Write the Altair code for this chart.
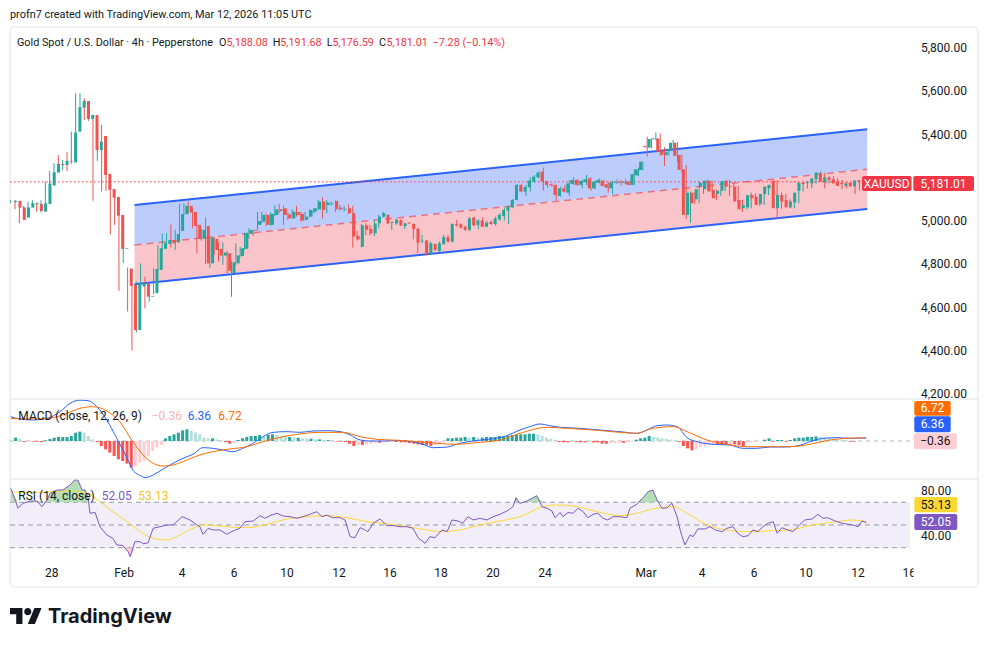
import altair as alt
import pandas as pd

# ---------------- data ----------------
opens = [5087,5093,5063,5016,5062,5077,5079,5043,5079,5164,
5224,5264,5259,5278,5271,5413,5524,5555,5472,5490,
5328,5393,5218,5148,5111,5028,4871,4780,4704,4496,
4697,4712,4650,4666,4774,4871,4894,4912,4901,4954,
5031,5070,5042,4982,4917,4977,4804,4917,4871,4840,
4851,4758,4804,4838,4871,4940,4959,4982,4997,5028,
4982,5028,5054,5059,5031,5012,5042,5033,5005,5020,
5043,5054,5090,5074,5079,5093,5062,5053,5059,5036,
4931,4881,4980,4963,4943,4989,5020,5028,4992,4989,
5002,4977,4992,4986,4965,4906,4909,4848,4894,4861,
4894,4925,4905,4986,4985,4974,4959,5016,4982,5002,
4974,4996,4986,5008,5023,5048,5063,5097,5167,5136,
5156,5182,5202,5228,5185,5170,5167,5116,5151,5131,
5171,5190,5167,5180,5197,5151,5177,5187,5170,5151,
5176,5182,5176,5182,5167,5211,5236,5347,5339,5378,
5382,5325,5305,5325,5362,5305,5239,5028,5131,5100,
5159,5147,5185,5143,5125,5140,5187,5162,5159,5097,
5059,5063,5120,5113,5079,5125,5151,5187,5059,5120,
5097,5063,5085,5140,5177,5177,5174,5193,5221,5179,
5202,5193,5182,5177,5162,5177,5160,5188.08]
highs = [5097,5097,5066,5070,5090,5096,5086,5096,5182,5231,
5267,5305,5282,5318,5413,5591,5591,5567,5498,5492,
5421,5444,5221,5190,5139,5030,4943,4785,4706,4720,
4804,4743,4709,4781,4889,4943,4943,4985,4959,5079,
5082,5090,5059,4982,4963,5016,4928,4928,4901,4901,
4861,4812,4897,4881,4946,4966,4959,5042,5042,5036,
5039,5074,5079,5070,5039,5054,5070,5042,5042,5054,
5060,5097,5110,5097,5090,5094,5074,5070,5077,5070,
4954,4986,4989,4982,5005,5028,5043,5030,4997,5012,
5008,4992,4993,4988,4966,4935,4912,4905,4895,4905,
4935,4935,4989,5005,4989,4977,5017,5020,5008,5017,
5000,5002,5020,5036,5063,5070,5102,5171,5170,5167,
5202,5213,5231,5247,5186,5174,5168,5159,5167,5190,
5202,5193,5190,5213,5202,5187,5197,5190,5182,5187,
5193,5190,5193,5187,5239,5247,5275,5390,5382,5410,
5405,5341,5333,5375,5365,5307,5259,5136,5133,5182,
5182,5193,5187,5145,5142,5187,5190,5174,5162,5098,
5082,5131,5128,5116,5131,5167,5174,5190,5131,5125,
5100,5100,5143,5182,5182,5190,5224,5228,5224,5208,
5208,5197,5190,5182,5177,5180,5190,5191.68]
lows = [5082,5054,4989,5009,5056,5071,5043,5040,5074,5156,
5219,5255,5234,5231,5265,5411,5501,5467,5463,5094,
5278,5136,5139,4938,4982,4677,4806,4581,4401,4484,
4689,4596,4627,4661,4769,4866,4881,4877,4866,4905,
5028,5036,4966,4851,4909,4801,4784,4843,4812,4797,
4758,4650,4797,4835,4866,4917,4931,4959,4989,4977,
4977,5023,5036,4982,5005,5012,5020,4997,5003,5018,
5036,5051,5012,5036,5070,5042,5048,5043,5033,4877,
4909,4878,4935,4935,4931,4966,5016,4986,4959,4982,
4977,4963,4986,4915,4851,4897,4841,4843,4863,4858,
4889,4900,4900,4974,4966,4954,4955,4977,4962,4971,
4971,4982,4977,5002,5002,4986,5059,5095,5133,5116,
5136,5177,5197,5140,5154,5159,5094,5113,5133,5116,
5167,5162,5151,5167,5140,5147,5174,5159,5131,5125,
5171,5164,5171,5164,5165,5208,5233,5298,5336,5372,
5301,5254,5303,5322,5274,5224,5009,4992,5079,5082,
5125,5143,5131,5097,5116,5138,5116,5116,5082,5043,
5054,5059,5100,5070,5074,5120,5140,5008,5056,5082,
5059,5059,5082,5136,5151,5151,5171,5182,5151,5174,
5174,5171,5147,5151,5159,5125,5140,5176.59]
closes = [5093,5062,5005,5063,5082,5082,5046,5082,5173,5225,
5264,5259,5278,5275,5410,5526,5555,5472,5490,5328,
5367,5213,5144,5108,5025,4871,4874,4700,4496,4707,
4712,4650,4653,4778,4874,4900,4912,4897,4940,5032,
5070,5039,4977,4917,4959,4804,4923,4866,4840,4854,
4770,4809,4841,4874,4943,4959,4955,5000,5028,4982,
5033,5054,5046,5028,5012,5043,5028,5002,5020,5051,
5059,5090,5051,5085,5082,5054,5054,5056,5036,4928,
4915,4980,4959,4943,4989,5020,5036,4989,4996,5005,
4980,4989,4989,4962,4900,4909,4851,4897,4866,4897,
4925,4905,4986,4980,4969,4959,5012,4980,5002,4974,
4992,4986,5012,5028,5051,5066,5097,5167,5136,5157,
5187,5205,5224,5182,5167,5165,5120,5151,5136,5174,
5190,5167,5185,5193,5151,5182,5190,5162,5154,5177,
5180,5177,5180,5167,5217,5239,5274,5341,5379,5382,
5321,5305,5318,5362,5301,5236,5028,5131,5082,5147,
5177,5187,5136,5105,5140,5185,5159,5159,5090,5054,
5074,5120,5105,5074,5125,5159,5167,5059,5120,5090,
5063,5090,5131,5177,5171,5182,5197,5224,5182,5202,
5190,5174,5162,5171,5174,5160,5188,5181.01]

hist = [7.1,4.3,-2.1,-1.4,-1.4,-1.4,-2.1,1.4,4.3,7.1,
8.5,8.5,8.5,10.6,17.7,19.9,17.7,10.6,3.5,-2.1,
-10.6,-17.7,-24.8,-31.9,-39,-42.6,-48.2,-56.7,-53.2,-46.1,
-42.6,-31.9,-21.3,-14.2,-8.5,5.7,10.6,14.2,17.7,22.7,
24.8,21.3,17.7,14.2,7.1,5.7,5.7,3.5,2.1,-2.1,
-5.7,-3.5,2.1,5.7,8.5,10.6,10.6,12.8,10.6,12.8,
14.2,12.8,10.6,8.5,8.5,7.1,7.1,5.7,5.0,5.0,
3.5,3.5,2.1,2.1,1.4,-1.4,-1.4,-2.1,-5.7,-10.6,
-8.5,-8.5,-7.1,-5.7,-3.5,-3.5,-2.8,-2.1,-1.4,-2.1,
-2.8,-2.8,-4.3,-5.7,-7.1,-8.5,-8.5,-10.6,-8.5,-5.7,
-2.8,5.7,5.7,7.1,7.1,8.5,7.1,8.5,7.1,7.1,
8.5,8.5,8.5,10.6,10.6,10.6,12.8,12.8,14.2,14.2,
15.6,15.6,14.2,10.6,7.1,5.0,2.8,-2.1,-2.8,-2.8,
-2.1,-2.1,-2.8,-2.8,-2.1,-2.8,-2.8,-5.7,-5.7,-5.0,
-4.3,-3.5,-3.5,-2.8,-2.1,2.8,5.7,7.1,10.6,8.5,
7.1,5.7,4.3,2.8,2.1,-2.1,-10.6,-15.6,-19.9,-17.7,
-12.8,-10.6,-8.5,-7.1,-7.1,-8.5,-8.5,-7.1,-7.1,-8.5,
-10.6,-3.5,-2.8,-2.1,-1.4,2.8,5.7,-1.4,2.1,2.1,
-1.4,2.1,5.7,7.1,7.1,8.5,8.5,9.9,8.5,7.1,
5.7,4.3,3.5,2.8,2.1,-1.4,-1.4,-0.36]

macd_i = [0,2.1,5.1,8.4,11.4,13.7,16.0,17.9,19.9,22.2,24.5,26.9,28.2,30.3,31.0,32.9,35.2,37.5,39.8,42.1,
44.4,46.7,49.0,51.3,53.6,56.0,58.3,60.6,63.8,66.8,69.8,73.0,76.1,78.4,80.7,83.0,86.0,89.9,92.9,95.2,
97.5,100.8,103.7,106.8,110.0,113.0,114.6,117.6,119.9,122.2,124.5,126.9,131.5,136.1,140.7,144.6,146.9,149.3,151.6,153.9,
156.2,158.5,162.2,166.1,169.1,172.3,175.4,178.4,181.6,184.6,187.6,190.8,193.8,197.6]
macd_v = [51.7,46.8,44.7,48.2,62.4,80,87,85.8,73,44.7,5.7,-36.8,-61.7,-75,-78,-72.3,-59.6,-47.5,-36.8,-28.3,
-14.2,-15.6,-19.1,-22.7,-15.6,-4.9,9.2,18.4,19.9,18.4,21.3,22,19.9,12.8,2.1,0,0,1,-2,-7,
-14.2,-12.8,-4.9,0,3.5,7,11.3,23.4,30.5,36.2,32.6,29.1,27,23.4,19.9,16.3,23.4,32.6,34,30.5,
7,-1.4,-7,-8.5,-15.6,-15.6,-12.8,-12.8,-10.6,-1.4,5.7,7,5.7,6.36]
signal_i = [0,5.1,9.8,13.0,16.0,19.0,22.2,25.2,28.2,30.6,32.9,35.2,37.5,40.7,43.7,46.7,50.6,54.6,58.3,62.9,
66.8,71.4,76.7,80.7,84.6,89.9,94.5,98.5,102.1,108.4,113.0,117.6,123.9,128.5,134.5,140.7,144.6,148.3,153.0,156.2,
160.8,165.4,170.0,174.6,180.0,184.6,189.2,193.1,197.6]
signal_v = [48.2,46.8,49.6,58.9,69.5,73,63.8,41.1,-1.4,-29.8,-47.5,-53.2,-51,-40.4,-29.8,-22.7,-17,-12.1,-1.4,9.2,
14.9,18.4,18.4,9.2,3.5,1.4,-2,-4.9,-7,-2.8,2.1,16.3,29.1,27,23.4,18.4,16.3,27,30.5,19.9,
2.1,-7,-12.1,-12.1,-12.1,-7,2.1,5.7,6.72]

rsi_i = [0,0.5,1.7,2.8,4.5,6.1,7.2,8.4,9.1,10.7,12.1,13.7,14.8,15.5,16.5,17.2,17.9,18.3,19.5,20.6,
22.2,23.6,24.5,25.9,27.1,27.6,28.7,29.9,30.6,31.7,32.9,34.5,36.1,37.5,39.6,41.4,43.0,43.7,44.4,45.6,
46.7,48.3,49.9,51.3,52.9,54.1,56.0,57.6,58.7,59.9,61.5,62.9,64.5,66.1,67.5,69.1,70.7,71.9,73.0,74.4,
76.1,77.2,78.4,79.5,80.7,81.8,82.5,83.7,85.3,86.9,88.3,89.9,91.5,92.9,94.1,95.7,96.8,98.0,99.6,100.8,
101.9,103.3,104.4,105.6,106.8,108.4,110.0,111.4,113.0,114.6,116.0,116.7,117.6,119.2,121.5,122.7,123.9,125.0,125.7,126.9,
127.5,128.7,129.9,131.0,132.2,133.3,134.5,135.6,136.8,137.9,139.1,140.7,142.3,143.0,144.6,146.0,147.2,148.3,149.3,150.4,
151.6,152.7,153.9,154.6,155.7,156.9,157.6,158.7,160.3,161.5,162.7,164.3,165.4,166.8,167.9,169.1,170.3,171.4,172.6,173.7,
174.9,176.1,177.0,178.1,179.5,180.7,182.3,183.4,185.1,186.4,187.6,188.7,190.4,192.0,193.4,194.5,195.7,196.6,197.6]
rsi_v = [82.1,77.8,64.7,69,71.1,71.1,66.1,72,77.9,80.8,80.8,85.2,89.6,89.6,80.8,80.8,73.7,60.3,61,48.5,
41.2,38.3,32.4,32,26.5,22.1,35.3,35.3,33.5,34.2,47.1,48.5,50,50,57.3,54.4,50,48.5,41.8,47,
45.6,45.6,41.8,44.7,47.1,52.9,53.5,58.2,55.9,58.2,60.3,57.9,57.3,55.9,57.3,59.4,61.7,57.3,58.7,56.4,
56.4,54.4,39.7,38.8,47.6,45.6,44.1,51.5,55.3,49.4,49.4,48.5,48.5,47.1,38.8,33.8,39.7,38.8,45.6,44.1,
54.4,53.5,51.5,57.3,54.4,55.9,54.4,57.3,59.4,62.3,66.1,74,69,71.1,75.8,66.1,64.7,62.3,56.4,61,
57.3,61,60.3,64.7,61.7,56.4,59.4,60.3,55.9,54.4,57.3,57.3,56.4,64.7,68.2,73.7,79.3,80.8,72,64.7,
65,69.2,57.3,45.6,32.4,41.2,39.7,46.5,46.5,48.5,45.6,44.1,47.1,48.5,42.7,39.7,40.5,45.6,44.1,48.5,
51.5,52.9,42.7,47.6,45.6,44.1,50.6,54.4,55.3,59.4,55.9,56.4,53.5,51.5,50.6,50,48.5,53.5,52.05]
rsima_i = [0,5.1,13.0,17.6,20.6,23.6,26.9,29.9,32.9,36.1,39.1,42.1,45.3,49.9,54.6,59.2,63.8,68.4,73.0,77.7,
82.3,86.0,91.5,96.1,99.1,103.7,108.4,113.0,117.6,122.9,126.2,130.8,135.4,140.7,144.6,148.3,153.0,156.2,160.8,165.4,
169.1,174.6,180.0,185.3,189.9,194.5,197.6]
rsima_v = [79.3,78.5,80,77.9,70.6,61.7,52.9,44.1,38.3,36.8,41.2,47.1,50,48.5,47.6,50.6,55.3,57.3,58.2,56.4,
52.9,51.5,48.5,45.6,44.1,45.6,50,53.5,57.3,66.1,67.6,66.1,61.7,58.2,60.3,64.1,66.1,60.3,50,45.6,
44.1,44.7,45.6,50,52.4,54.4,53.13]

# 5,200.00 is hidden behind the last-price label in the reference, so it is not listed
price_ticks = [5800, 5600, 5400, 5000, 4800, 4600, 4400, 4200]
rsi_ticks = [80, 40]
rsi_levels = [70, 50, 30]

date_i = [9.5, 26.2, 39.6, 51.6, 63.8, 75.8, 87.6, 99.4, 111.4, 123.4, 146.7, 159.7, 171.7, 183.7, 195.7, 207.5]
date_lab = ["28", "Feb", "4", "6", "10", "12", "16", "18", "20", "24", "Mar", "4", "6", "10", "12", "16"]

chan_i = [28.6, 197.8]
chan_upper = [5074, 5424]
chan_mid = [4889, 5239]
chan_lower = [4707, 5056]

macd_last, signal_last, hist_last = 6.36, 6.72, -0.36
rsi_last, rsima_last = 52.05, 53.13

# ---------------- styling ----------------
UP, DOWN = "#26A69A", "#EF5350"
FONT = "Roboto"
TXT = "#131722"

XS = alt.Scale(domain=[0, 200], range=[2.7, 868.7], nice=False, zero=False)
PS = alt.Scale(domain=[4200, 5800], range=[386, 40], nice=False, zero=False)
MS = alt.Scale(domain=[-80, 80], range=[470.6, 395.4], nice=False, zero=False)
RS = alt.Scale(domain=[20, 80], range=[551.05, 482.9], nice=False, zero=False)

def X(f="i"):
    return alt.X(f + ":Q", scale=XS, axis=None)

one = pd.DataFrame({"a": [0]})

def txt(s, x, y, color=TXT, size=12, align="left", weight="normal", font=FONT):
    return alt.Chart(pd.DataFrame({"t": [s]})).mark_text(
        align=align, baseline="middle", fontSize=size, fontWeight=weight, font=font, color=color
    ).encode(x=alt.value(x), y=alt.value(y), text="t:N")

def box(x1, x2, y1, y2, fill, r=2):
    return alt.Chart(one).mark_rect(color=fill, cornerRadius=r).encode(
        x=alt.value(x1), x2=alt.value(x2), y=alt.value(y1), y2=alt.value(y2))

def hrule(y, x1, x2, color, width=1):
    return alt.Chart(one).mark_rule(color=color, strokeWidth=width).encode(
        x=alt.value(x1), x2=alt.value(x2), y=alt.value(y))

# ---------------- frame ----------------
frame = alt.Chart(one).mark_rect(fill="transparent", stroke="#E0E3EB", strokeWidth=1, cornerRadius=4).encode(
    x=alt.value(2), x2=alt.value(970), y=alt.value(19), y2=alt.value(579))

# ---------------- price pane ----------------
cdf = pd.DataFrame({"i": range(len(opens)), "o": opens, "h": highs, "l": lows, "c": closes})
cdf["col"] = [UP if c >= o else DOWN for o, c in zip(opens, closes)]

chan = pd.DataFrame({"i": chan_i, "up": chan_upper, "mid": chan_mid, "lo": chan_lower})
chan_top = alt.Chart(chan).mark_area(color="#BCCDFD", opacity=1).encode(
    x=X(), y=alt.Y("mid:Q", scale=PS, axis=None), y2="up:Q")
chan_bot = alt.Chart(chan).mark_area(color="#F9C4CA", opacity=1).encode(
    x=X(), y=alt.Y("lo:Q", scale=PS, axis=None), y2="mid:Q")
chan_up_line = alt.Chart(chan).mark_line(color="#2962FF", strokeWidth=2).encode(
    x=X(), y=alt.Y("up:Q", scale=PS, axis=None))
chan_lo_line = alt.Chart(chan).mark_line(color="#2962FF", strokeWidth=2).encode(
    x=X(), y=alt.Y("lo:Q", scale=PS, axis=None))
chan_mid_line = alt.Chart(chan).mark_line(color="#E8707F", strokeWidth=1.5, strokeDash=[7, 5]).encode(
    x=X(), y=alt.Y("mid:Q", scale=PS, axis=None))

last_df = pd.DataFrame({"p": [closes[-1]]})
last_line = alt.Chart(last_df).mark_rule(color="#F23645", strokeWidth=1, strokeDash=[1.5, 2.5]).encode(
    x=alt.value(2), x2=alt.value(854), y=alt.Y("p:Q", scale=PS, axis=None))

wicks = alt.Chart(cdf).mark_rule(strokeWidth=1).encode(
    x=X(), y=alt.Y("l:Q", scale=PS, axis=None), y2="h:Q", color=alt.Color("col:N", scale=None))
bodies = alt.Chart(cdf).mark_bar(size=3).encode(
    x=X(), y=alt.Y("o:Q", scale=PS, axis=None), y2="c:Q", color=alt.Color("col:N", scale=None))

ptick_df = pd.DataFrame({"v": price_ticks, "lab": [f"{v:,.2f}" for v in price_ticks]})
ptick_txt = alt.Chart(ptick_df).mark_text(align="left", baseline="middle", fontSize=12, font=FONT, color=TXT).encode(
    x=alt.value(913), y=alt.Y("v:Q", scale=PS, axis=None), text="lab:N")

# ---------------- MACD pane ----------------
hcol = []
for k, h in enumerate(hist):
    prev = hist[k - 1] if k > 0 else h
    if h >= 0:
        hcol.append("#26A69A" if h >= prev else "#B2DFDB")
    else:
        hcol.append("#FF5252" if h <= prev else "#FFCDD2")
hdf = pd.DataFrame({"i": range(len(hist)), "h": hist, "z": [0] * len(hist), "col": hcol})
hbars = alt.Chart(hdf).mark_bar(size=3).encode(
    x=X(), y=alt.Y("h:Q", scale=MS, axis=None), y2="z:Q", color=alt.Color("col:N", scale=None))
zero_df = pd.DataFrame({"v": [0]})
zero_line = alt.Chart(zero_df).mark_rule(color="#B2B5BE", strokeDash=[4, 4], strokeWidth=1).encode(
    x=alt.value(2), x2=alt.value(902), y=alt.Y("v:Q", scale=MS, axis=None))
macd_line = alt.Chart(pd.DataFrame({"i": macd_i, "v": macd_v})).mark_line(
    color="#2962FF", strokeWidth=1, interpolate="monotone").encode(x=X(), y=alt.Y("v:Q", scale=MS, axis=None))
sig_line = alt.Chart(pd.DataFrame({"i": signal_i, "v": signal_v})).mark_line(
    color="#FF6D00", strokeWidth=1, interpolate="monotone").encode(x=X(), y=alt.Y("v:Q", scale=MS, axis=None))

# ---------------- RSI pane ----------------
band_df = pd.DataFrame({"hi": [70], "lo": [30]})
rsi_band = alt.Chart(band_df).mark_rect(color="#F2EEF9").encode(
    x=alt.value(2), x2=alt.value(902), y=alt.Y("hi:Q", scale=RS, axis=None), y2="lo:Q")
lvl_df = pd.DataFrame({"v": rsi_levels})
rsi_lvls = alt.Chart(lvl_df).mark_rule(color="#9598A1", strokeDash=[5, 4], strokeWidth=1).encode(
    x=alt.value(2), x2=alt.value(902), y=alt.Y("v:Q", scale=RS, axis=None))
rdf = pd.DataFrame({"i": rsi_i, "v": rsi_v})
ob_fill = alt.Chart(rdf).transform_calculate(t="max(datum.v, 70)").mark_area(color="#B4DEB6").encode(
    x=X(), y=alt.Y("t:Q", scale=RS, axis=None), y2=alt.datum(70))
os_fill = alt.Chart(rdf).transform_calculate(t="min(datum.v, 30)").mark_area(color="#F8CCD0").encode(
    x=X(), y=alt.Y("t:Q", scale=RS, axis=None), y2=alt.datum(30))
rsi_line = alt.Chart(rdf).mark_line(color="#7E57C2", strokeWidth=1).encode(
    x=X(), y=alt.Y("v:Q", scale=RS, axis=None))
rsima_line = alt.Chart(pd.DataFrame({"i": rsima_i, "v": rsima_v})).mark_line(
    color="#FDD835", strokeWidth=1, interpolate="monotone").encode(x=X(), y=alt.Y("v:Q", scale=RS, axis=None))
rtick_df = pd.DataFrame({"v": rsi_ticks, "lab": [f"{v:.2f}" for v in rsi_ticks]})
rtick_txt = alt.Chart(rtick_df).mark_text(align="left", baseline="middle", fontSize=12, font=FONT, color=TXT).encode(
    x=alt.value(913), y=alt.Y("v:Q", scale=RS, axis=None), text="lab:N")

# ---------------- date axis ----------------
ddf = pd.DataFrame({"i": date_i, "lab": date_lab})
dates = alt.Chart(ddf).mark_text(align="center", baseline="middle", fontSize=12, font=FONT, color=TXT).encode(
    x=X(), y=alt.value(565), text="lab:N")
date_cover = box(905.5, 968, 556, 577, "#FFFFFF", r=0)

# ---------------- separators ----------------
sep1 = hrule(391, 2, 970, "#E0E3EB")
sep2 = hrule(471, 2, 970, "#E0E3EB")

def fmt(v):
    return f"{v:,.2f}".replace("-", "\u2212")

# ---------------- labels / legends ----------------
o, h, l, c = opens[-1], highs[-1], lows[-1], closes[-1]
RED = "#F23645"
LS = 10.8
legend = [
    txt("profn7 created with TradingView.com, Mar 12, 2026 11:05 UTC", 2, 7, size=10.9),
    txt("Gold Spot / U.S. Dollar \u00b7 4h \u00b7 Pepperstone", 9, 34.7, size=LS),
    txt("O", 211, 34.7, size=LS), txt(fmt(o), 218.5, 34.7, RED, size=LS),
    txt("H", 264.7, 34.7, size=LS), txt(fmt(h), 272.3, 34.7, RED, size=LS),
    txt("L", 318.7, 34.7, size=LS), txt(fmt(l), 324.5, 34.7, RED, size=LS),
    txt("C", 371, 34.7, size=LS), txt(fmt(c), 378.5, 34.7, RED, size=LS),
    txt("\u22127.28 (\u22120.14%)", 424.5, 34.7, RED, size=LS),
    txt("MACD (close, 12, 26, 9)", 10.3, 407.7),
    txt(fmt(hist_last), 143.7, 407.7, "#F9B4BD"),
    txt(fmt(macd_last), 179.7, 407.7, "#2962FF"),
    txt(fmt(signal_last), 210.3, 407.7, "#FF6D00"),
    txt("RSI (14, close)", 10.3, 487.7),
    txt(fmt(rsi_last), 93.7, 487.7, "#7E57C2"),
    txt(fmt(rsima_last), 130.3, 487.7, "#F2C530"),
]
labels = [
    box(854, 903.5, 168, 183, RED), txt("XAUUSD", 878.7, 175.5, "#FFFFFF", align="center"),
    box(905.3, 966, 168, 183, RED), txt(fmt(c), 935.6, 175.5, "#FFFFFF", align="center"),
    box(906.3, 942.7, 393, 407.7, "#FF6D00"), txt(fmt(signal_last), 924.5, 400.3, "#FFFFFF", align="center"),
    box(906.3, 942.7, 408.3, 424.3, "#2962FF"), txt(fmt(macd_last), 924.5, 416.3, "#FFFFFF", align="center"),
    box(906, 948.7, 425.3, 441.3, "#FFCDD2"), txt(fmt(hist_last), 927.3, 433.3, TXT, align="center"),
    box(906.3, 949.3, 489, 504.3, "#FDD835"), txt(fmt(rsima_last), 927.8, 496.7, TXT, align="center"),
    box(906.3, 949.3, 506, 522, "#7E57C2"), txt(fmt(rsi_last), 927.8, 514, "#FFFFFF", align="center"),
]

# ---------------- TradingView logo ----------------
logo_path = ("M-0.222,0.444 L-0.611,0.444 L-0.611,-0.167 L-1,-0.167 L-1,-0.556 L-0.222,-0.556 Z "
             "M0.556,0.444 L0.111,0.444 L0.528,-0.556 L0.972,-0.556 Z "
             "M-0.111,-0.333 A0.222,0.222 0 1,0 0.333,-0.333 A0.222,0.222 0 1,0 -0.111,-0.333 Z")
logo = alt.Chart(one).mark_point(shape=logo_path, filled=True, size=1024, color=TXT, opacity=1, strokeWidth=0).encode(
    x=alt.value(18), y=alt.value(609))
logo_txt = txt("TradingView", 40, 608.5, TXT, size=20, weight="bold", font="Inter")

layers = [frame, rsi_band, chan_top, chan_bot, chan_mid_line, chan_up_line, chan_lo_line, last_line,
          wicks, bodies, ptick_txt, zero_line, hbars, macd_line, sig_line,
          rsi_lvls, ob_fill, os_fill, rsima_line, rsi_line, rtick_txt, dates, date_cover,
          sep1, sep2] + legend + labels + [logo, logo_txt]

chart = alt.layer(*layers).resolve_scale(x="independent", y="independent", color="independent").properties(
    width=973, height=631, autosize=alt.AutoSizeParams(type="none"), padding=0, background="#FFFFFF"
).configure_view(stroke="transparent")

chart.save("out.html", embed_options={"renderer": "svg", "actions": False})
